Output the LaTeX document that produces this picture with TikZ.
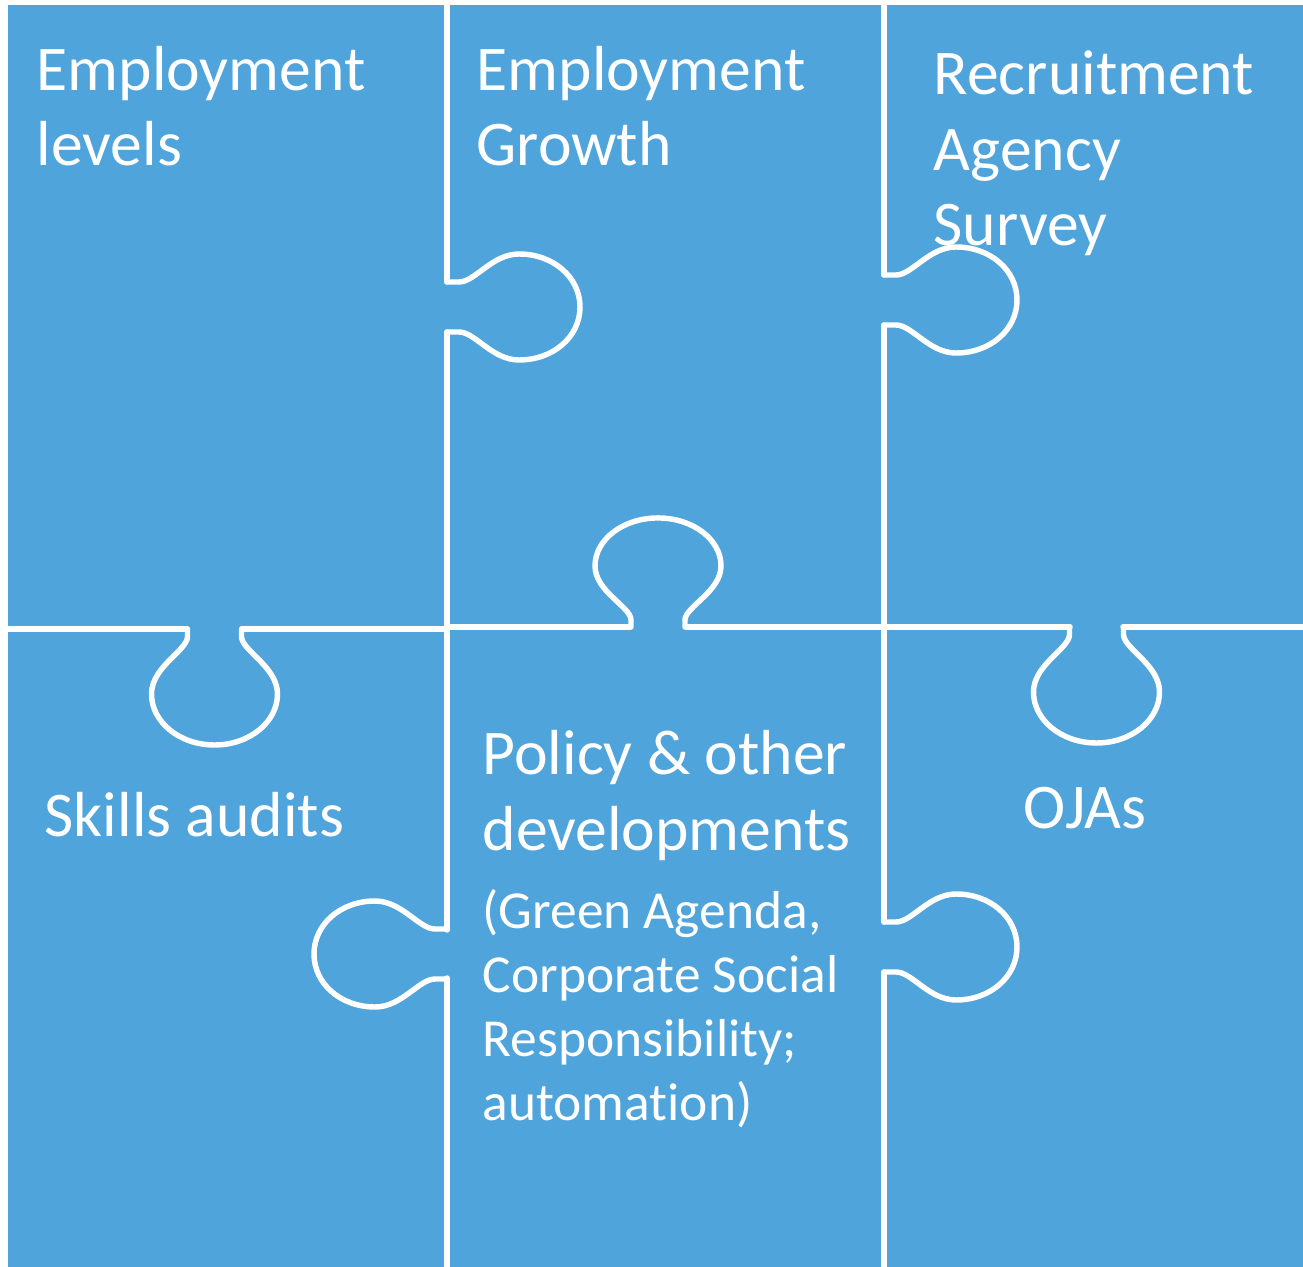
\documentclass[tikz,border=0pt]{standalone}
\usepackage{fontspec}
\setmainfont{Carlito}[Ligatures=NoCommon]
\usetikzlibrary{positioning}
\definecolor{puzzleblue}{RGB}{79,164,219}
\tikzset{
	cut/.style={draw=white, line width=1.55pt, line cap=round, line join=round},
	title/.style={anchor=base west, inner sep=0pt, text=white, align=left, font=\fontsize{18.1}{21.6}\selectfont},
	note/.style={anchor=base west, inner sep=0pt, text=white, align=left, font=\fontsize{15.2}{18.2}\selectfont},
	% knob on a vertical line, pointing right
	hknob/.pic={\draw[cut] (0,-25) -- (12,-25) .. controls (28,-25) and (45,-53) .. (72,-53) .. controls (106,-53) and (133,-30) .. (133,0) .. controls (133,30) and (106,53) .. (72,53) .. controls (45,53) and (28,25) .. (12,25) -- (0,25);},
	% knob on a horizontal line, pointing down
	vknob/.pic={\draw[cut] (-27,0) -- (-27,8) .. controls (-28,22) and (-63,38) .. (-63,65) .. controls (-63,93) and (-35,116) .. (0,116) .. controls (35,116) and (63,93) .. (63,65) .. controls (63,38) and (28,22) .. (27,8) -- (27,0);}
}

\begin{document}
\begin{tikzpicture}[x=0.01cm, y=-0.01cm]

	\useasboundingbox (0,0) rectangle (1303,1267);
	\fill[white] (0,0) rectangle (1303,1267);
	\fill[puzzleblue] (8,5) rectangle (1303,1267);
	
	\def\xa{447}; \def\xb{884};
	
	% vertical cuts
	\draw[cut] (\xa,5) -- (\xa,282);
	\draw[cut] (\xa,332) -- (\xa,930);
	\draw[cut] (\xa,978) -- (\xa,1267);
	\draw[cut] (\xb,5) -- (\xb,275);
	\draw[cut] (\xb,325) -- (\xb,922);
	\draw[cut] (\xb,972) -- (\xb,1267);
	
	% horizontal cuts
	\draw[cut] (8,629) -- (187,629);
	\draw[cut] (242,629) -- (\xa,629);
	\draw[cut] (\xa,627) -- (630,627);
	\draw[cut] (686,627) -- (\xb,627);
	\draw[cut] (\xb,627) -- (1070,627);
	\draw[cut] (1123,627) -- (1303,627);
	
	\pic at (\xa,307) {hknob};
	\pic at (\xb,300) {hknob};
	\pic at (\xb,947) {hknob};
	\pic[xscale=-1] at (\xa,954) {hknob};
	\pic at (214.5,629) {vknob};
	\pic at (1096.5,627) {vknob};
	\pic[yscale=-0.94] at (658,627) {vknob};
	
	% base = baseline of the last line
	\node[title] (levels) at (36,166) {Employment\\levels};
	\node[title] (growth) at (476,166) {Employment\\Growth};
	\node[title] (agency) at (933,246) {Recruitment\\Agency\\Survey};
	\node[title] (skills) at (44,836) {Skills audits};
	\node[title] (policy) at (482,850) {Policy \& other\\developments};
	\node[note] (agenda) at (482,1120) {(Green Agenda,\\Corporate Social\\Responsibility;\\automation)};
	\node[title] (ojas) at (1023,828) {OJAs};
	
\end{tikzpicture}
\end{document}
